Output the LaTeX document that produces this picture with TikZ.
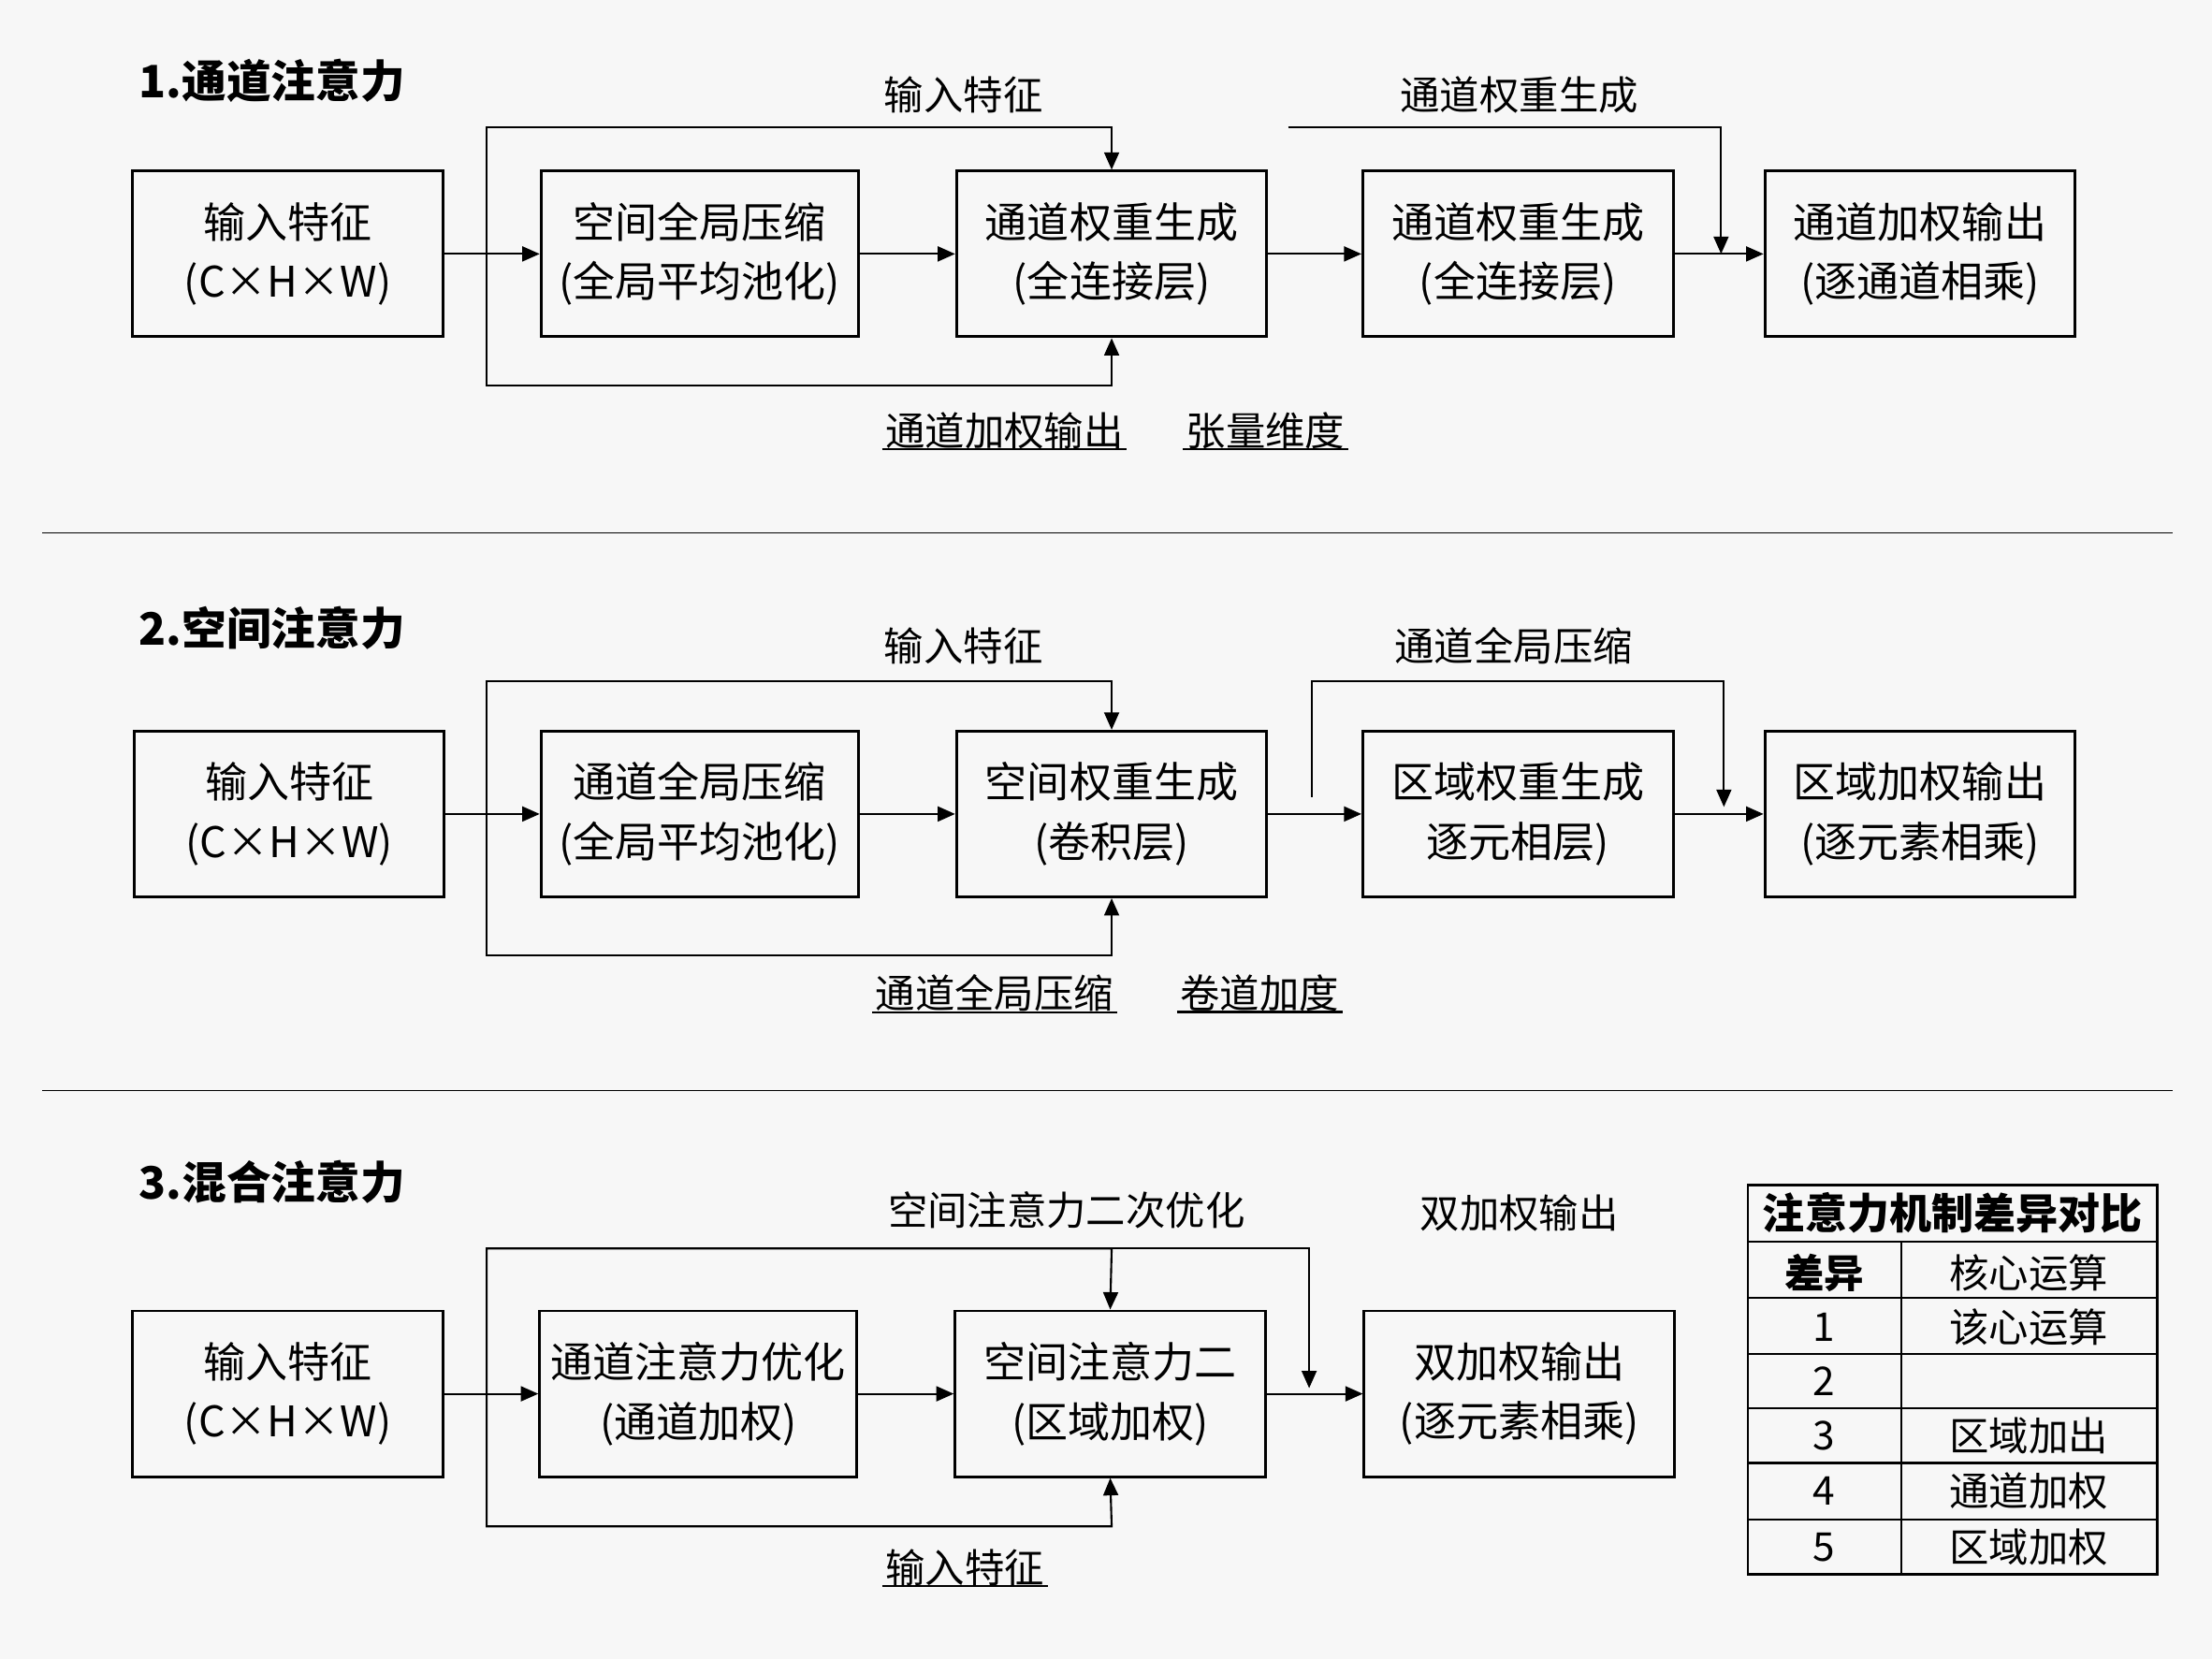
\documentclass[tikz,border=0pt]{standalone}
\usepackage{fontspec}
\setmainfont{Noto Sans CJK SC}
\usetikzlibrary{arrows.meta,positioning}

\tikzset{
	box/.style={draw, line width=1.1pt, minimum width=4.4cm, minimum height=2.35cm, align=center, font=\fontsize{17}{24}\selectfont},
	lbl/.style={font=\fontsize{16}{20}\selectfont},
	ulbl/.style={lbl, text depth=0pt, inner sep=1pt, append after command={(\tikzlastnode.south west) edge[thick] (\tikzlastnode.south east)}},
	ttl/.style={anchor=west, font=\fontsize{18}{22}\selectfont\bfseries},
	cell/.style={font=\fontsize{16}{20}\selectfont}
}

\begin{document}
\begin{tikzpicture}[x=0.02cm, y=-0.02cm, >={Triangle[length=7pt,width=6pt]}, thick]
	\useasboundingbox[fill=gray!6] (0,0) rectangle (1568,1176);

	% 1. channel attention
	\node[ttl] (t1) at (92,57) {1.通道注意力};
	\node[box] (a1) at (204,180) {输入特征\\(C×H×W)};
	\node[box, minimum width=4.5cm] (b1) at (496,180) {空间全局压缩\\(全局平均池化)};
	\node[box] (c1) at (788,180) {通道权重生成\\(全连接层)};
	\node[box] (d1) at (1076,180) {通道权重生成\\(全连接层)};
	\node[box] (e1) at (1361,180) {通道加权输出\\(逐通道相乘)};
	\coordinate (s1) at (345,180);
	\coordinate (r1) at (913,90);
	\draw[->] (a1) -- (b1);
	\draw[->] (b1) -- (c1);
	\draw[->] (c1) -- (d1);
	\draw[->] (d1) -- (e1);
	\draw[->] (s1) |- (788,90) -- (c1.north);
	\draw[->] (s1) |- (788,273) -- (c1.south);
	\draw[->] (r1) -| (1220,180);
	\node[lbl] (l1a) at (683,67) {输入特征};
	\node[lbl] (l1b) at (1077,67) {通道权重生成};
	\node[ulbl] (l1c) at (712,304) {通道加权输出};
	\node[ulbl] (l1d) at (897,304) {张量维度};

	\draw[thin] (30,378) -- (1540,378);

	% 2. spatial attention
	\node[ttl] (t2) at (92,445) {2.空间注意力};
	\node[box] (a2) at (205,577) {输入特征\\(C×H×W)};
	\node[box, minimum width=4.5cm] (b2) at (496,577) {通道全局压缩\\(全局平均池化)};
	\node[box] (c2) at (788,577) {空间权重生成\\(卷积层)};
	\node[box] (d2) at (1076,577) {区域权重生成\\逐元相层)};
	\node[box] (e2) at (1361,577) {区域加权输出\\(逐元素相乘)};
	\coordinate (s2) at (345,577);
	\coordinate (r2) at (930,565);
	\draw[->] (a2) -- (b2);
	\draw[->] (b2) -- (c2);
	\draw[->] (c2) -- (d2);
	\draw[->] (d2) -- (e2);
	\draw[->] (s2) |- (788,483) -- (c2.north);
	\draw[->] (s2) |- (788,677) -- (c2.south);
	\draw[->] (r2) |- (1222,483) -- (1222,572);
	\node[lbl] (l2a) at (683,458) {输入特征};
	\node[lbl] (l2b) at (1073,458) {通道全局压缩};
	\node[ulbl] (l2c) at (705,703) {通道全局压缩};
	\node[ulbl] (l2d) at (893,703) {卷道加度};

	\draw[thin] (30,773) -- (1540,773);

	% 3. mixed attention
	\node[ttl] (t3) at (92,838) {3.混合注意力};
	\node[box] (a3) at (204,988) {输入特征\\(C×H×W)};
	\node[box, minimum width=4.5cm] (b3) at (495,988) {通道注意力优化\\(通道加权)};
	\node[box] (c3) at (787,988) {空间注意力二\\(区域加权)};
	\node[box] (d3) at (1077,988) {双加权输出\\(逐元素相乘)};
	\coordinate (s3) at (345,988);
	\draw[->] (a3) -- (b3);
	\draw[->] (b3) -- (c3);
	\draw[->] (c3) -- (d3);
	\draw[->] (s3) |- (788,885) -- (c3.north);
	\draw[->] (s3) |- (928,885) -- (928,984);
	\draw[->] (s3) |- (788,1082) -- (c3.south);
	\node[lbl] (l3a) at (756,858) {空间注意力二次优化};
	\node[lbl] (l3b) at (1077,860) {双加权输出};
	\node[ulbl] (l3c) at (684,1110) {输入特征};

	% comparison table
	\draw[line width=1.1pt] (1239,840) rectangle (1529,1116);
	\draw (1239,880) -- (1529,880);
	\foreach \y in {920,960,998,1037,1077}
		\draw (1239,\y) -- (1529,\y);
	\draw (1348,880) -- (1348,1116);
	\node[cell, font=\fontsize{17}{20}\selectfont\bfseries] (th) at (1384,860) {注意力机制差异对比};
	\node[cell, font=\fontsize{16}{20}\selectfont\bfseries] (h1) at (1293,902) {差异};
	\node[cell] (h2) at (1438,902) {核心运算};
	\foreach \i/\t [count=\n] in {941/该心运算, 979/{}, 1018/区域加出, 1057/通道加权, 1097/区域加权} {
		\node[cell] (n\n) at (1293,\i) {\n};
		\node[cell] (v\n) at (1438,\i) {\t};
	}
\end{tikzpicture}
\end{document}
